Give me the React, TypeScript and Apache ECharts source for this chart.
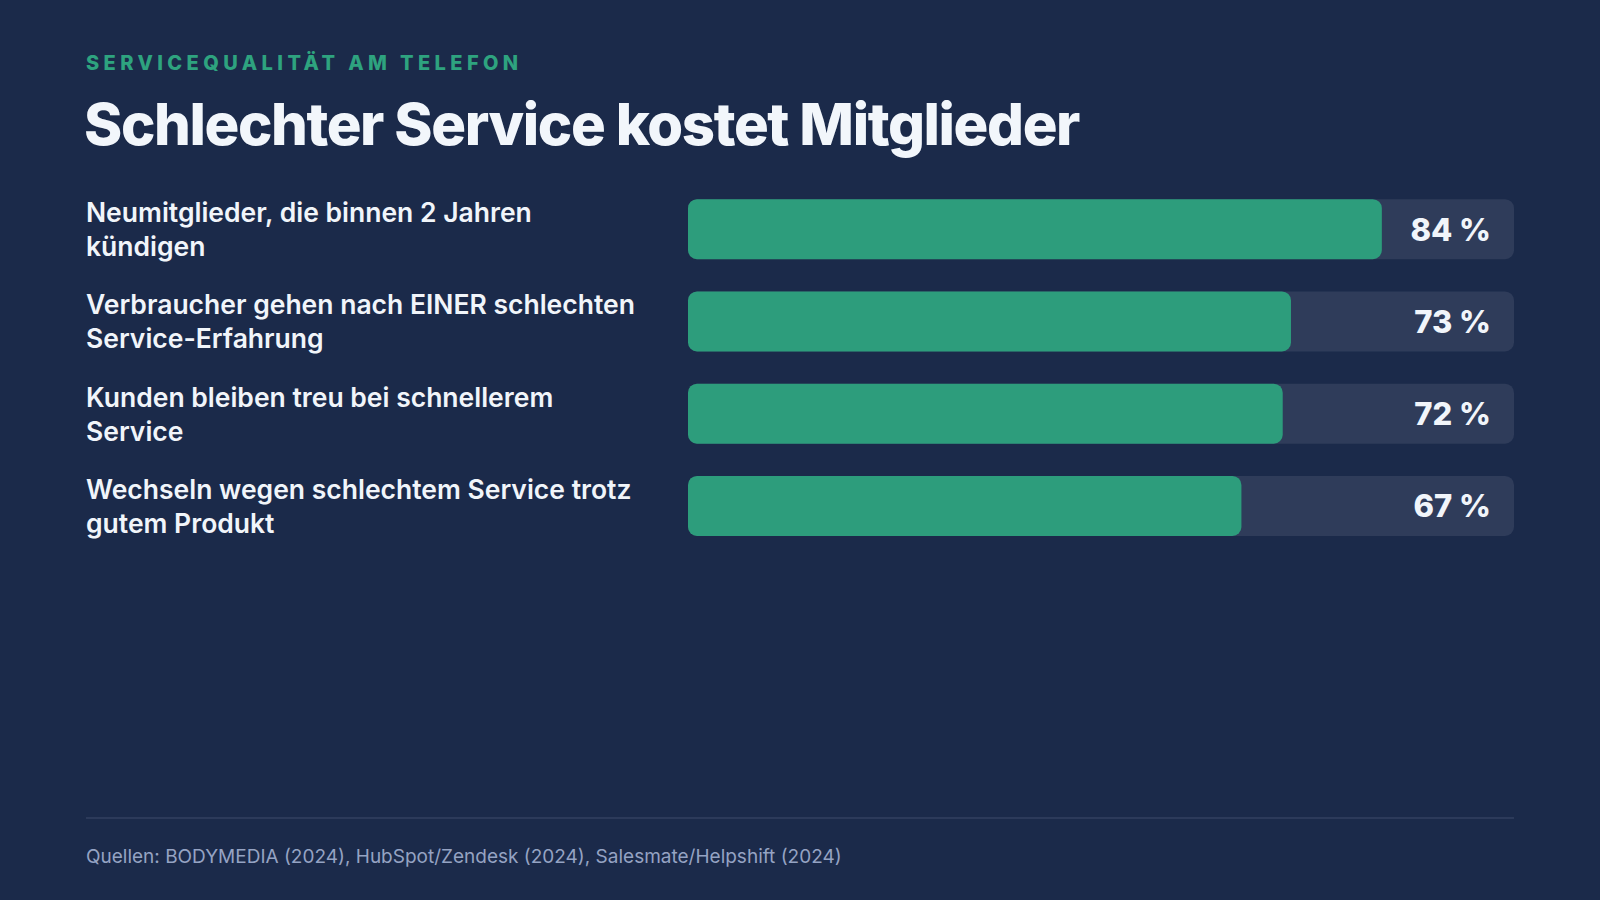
import React, { useEffect, useRef } from "react";
import * as echarts from "echarts";

// Survey results on phone service quality (percent of respondents)
const categories = [
  "Neumitglieder, die binnen 2 Jahren\nkündigen",
  "Verbraucher gehen nach EINER schlechten\nService-Erfahrung",
  "Kunden bleiben treu bei schnellerem\nService",
  "Wechseln wegen schlechtem Service trotz\ngutem Produkt",
];
const values = [84, 73, 72, 67];
const scaleMax = 100;

const eyebrow = "SERVICEQUALITÄT AM TELEFON";
const headline = "Schlechter Service kostet Mitglieder";
const sources = "Quellen: BODYMEDIA (2024), HubSpot/Zendesk (2024), Salesmate/Helpshift (2024)";

const BG = "#1b2a4a";
const GREEN = "#2d9d7c";
const EYEBROW = "#2ea37f";
const TRACK = "#2f3c5a";
const WHITE = "#f1f5fa";
const HEADLINE = "#f2f6fb";
const FONT = "Inter, 'Noto Sans', sans-serif";

export default function App() {
  const ref = useRef<HTMLDivElement>(null);

  useEffect(() => {
    if (!ref.current) return;
    const chart = echarts.init(ref.current, null, { renderer: "svg" });
    chart.setOption({
      animation: false,
      backgroundColor: BG,
      grid: { left: 688, right: 86, top: 183, height: 369, containLabel: false },
      xAxis: { type: "value", min: 0, max: scaleMax, show: false },
      yAxis: {
        type: "category",
        inverse: true,
        data: categories,
        axisLine: { show: false },
        axisTick: { show: false },
        splitLine: { show: false },
        axisLabel: {
          align: "left",
          margin: 602,
          color: WHITE,
          fontFamily: FONT,
          fontSize: 26.5,
          fontWeight: 600,
          lineHeight: 34,
        },
      },
      series: [
        {
          // full-scale track behind each bar, carrying the value label
          type: "bar",
          data: values.map(() => scaleMax),
          barWidth: 60,
          barGap: "-100%",
          silent: true,
          itemStyle: { color: TRACK, borderRadius: 9 },
          label: {
            show: true,
            position: "insideRight",
            distance: 23,
            formatter: (p: any) => `${values[p.dataIndex]} %`,
            color: WHITE,
            fontFamily: FONT,
            fontSize: 31,
            fontWeight: 800,
          },
        },
        {
          type: "bar",
          data: values,
          barWidth: 60,
          barGap: "-100%",
          itemStyle: { color: GREEN, borderRadius: 9 },
        },
      ],
      graphic: [
        {
          type: "text",
          x: 86,
          y: 63,
          style: {
            text: eyebrow,
            fill: EYEBROW,
            font: `800 20px ${FONT}`,
            textVerticalAlign: "middle",
          },
        },
        {
          type: "text",
          x: 84,
          y: 124,
          style: {
            text: headline,
            fill: HEADLINE,
            font: `800 58px ${FONT}`,
            textVerticalAlign: "middle",
          },
        },
        {
          type: "line",
          shape: { x1: 86, y1: 818, x2: 1514, y2: 818 },
          style: { stroke: "#2c3a5a", lineWidth: 2 },
        },
        {
          type: "text",
          x: 86,
          y: 856,
          style: {
            text: sources,
            fill: "#95a3c3",
            font: `400 19px ${FONT}`,
            textVerticalAlign: "middle",
          },
        },
      ],
    });
    return () => chart.dispose();
  }, []);

  return (
    <>
      <style>{`body{margin:0;background:${BG}}
#root svg text[fill="${EYEBROW}"]{letter-spacing:4.4px}
#root svg text[fill="${HEADLINE}"]{letter-spacing:-1.4px}`}</style>
      <div
        ref={ref}
        style={{ position: "fixed", left: 0, top: 0, width: 1600, height: 900 }}
      />
    </>
  );
}
